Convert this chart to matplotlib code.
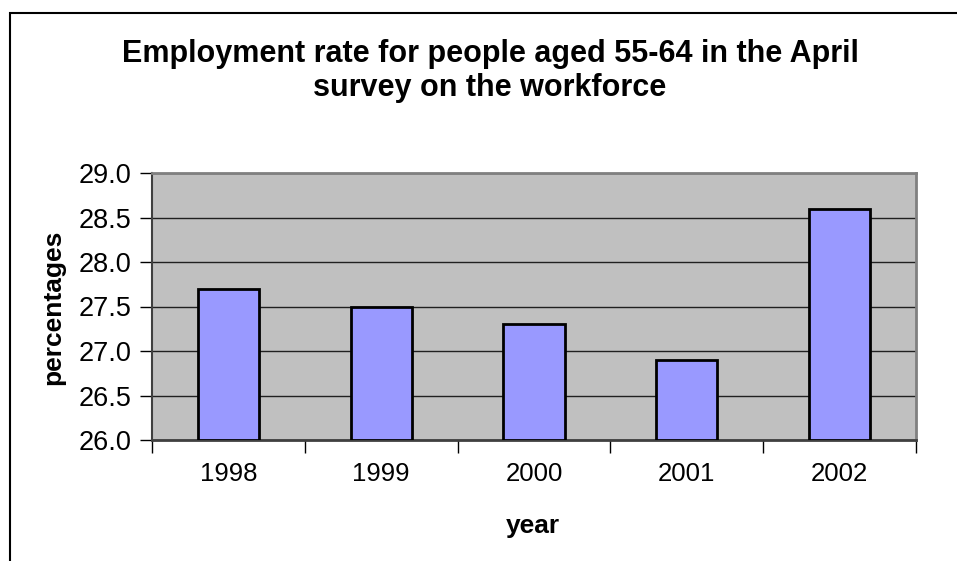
import matplotlib
matplotlib.use("Agg")
import matplotlib.pyplot as plt
from matplotlib.patches import Rectangle
from matplotlib.ticker import FormatStrFormatter, FixedLocator

years = ["1998", "1999", "2000", "2001", "2002"]
rates = [27.7, 27.5, 27.3, 26.9, 28.6]
y_ticks = [26.0, 26.5, 27.0, 27.5, 28.0, 28.5, 29.0]

title = "Employment rate for people aged 55-64 in the April\nsurvey on the workforce"
xlabel = "year"
ylabel = "percentages"

plt.rcParams['font.family'] = ['Liberation Sans', 'DejaVu Sans']

W, H = 957, 561
fig = plt.figure(figsize=(W / 100, H / 100), dpi=100)
fig.patch.set_facecolor("white")

# outer chart-area border (extends past right and bottom edge)
fig.patches.append(Rectangle((10 / W, -0.1), 1.2, (H - 13) / H + 0.1,
                             transform=fig.transFigure, fill=False,
                             edgecolor="black", linewidth=1.5, zorder=0))

L, R, T, B = 152, 916, 173, 440
ax = fig.add_axes([L / W, (H - B) / H, (R - L) / W, (B - T) / H])
ax.set_facecolor("#C0C0C0")

x = list(range(len(years)))
ax.bar(x, [r - 26.0 for r in rates], bottom=26.0, width=0.4,
       color="#9999FF", edgecolor="black", linewidth=2, zorder=3)

ax.set_xlim(-0.5, len(years) - 0.5)
ax.set_ylim(y_ticks[0], y_ticks[-1])
ax.set_yticks(y_ticks)
ax.yaxis.set_major_formatter(FormatStrFormatter("%.1f"))
ax.yaxis.grid(True, color="#202020", linewidth=1, zorder=1)
ax.set_axisbelow(True)

ax.set_xticks(x)
ax.set_xticklabels(years)
ax.xaxis.set_minor_locator(FixedLocator([i - 0.5 for i in range(len(years) + 1)]))
ax.tick_params(axis="x", which="major", length=0, pad=16, labelsize=18.5)
ax.tick_params(axis="x", which="minor", length=9, width=1, direction="out", color="black")
ax.tick_params(axis="y", length=9, width=1, direction="out", pad=6, labelsize=19.5)

for s in ["top", "right"]:
    ax.spines[s].set_color("#808080")
    ax.spines[s].set_linewidth(2)
ax.spines["left"].set_color("#404040")
ax.spines["left"].set_linewidth(1.5)
ax.spines["bottom"].set_color("#404040")
ax.spines["bottom"].set_linewidth(2)

fig.text(490 / W, 1 - 71 / H, title, ha="center", va="center",
         fontsize=22, fontweight="bold", linespacing=1.18)
fig.text(533 / W, 1 - 526 / H, xlabel, ha="center", va="center",
         fontsize=19, fontweight="bold")
fig.text(53 / W, 1 - 307 / H, ylabel, ha="center", va="center",
         fontsize=19, fontweight="bold", rotation=90)

fig.savefig("out.png", dpi=100)
